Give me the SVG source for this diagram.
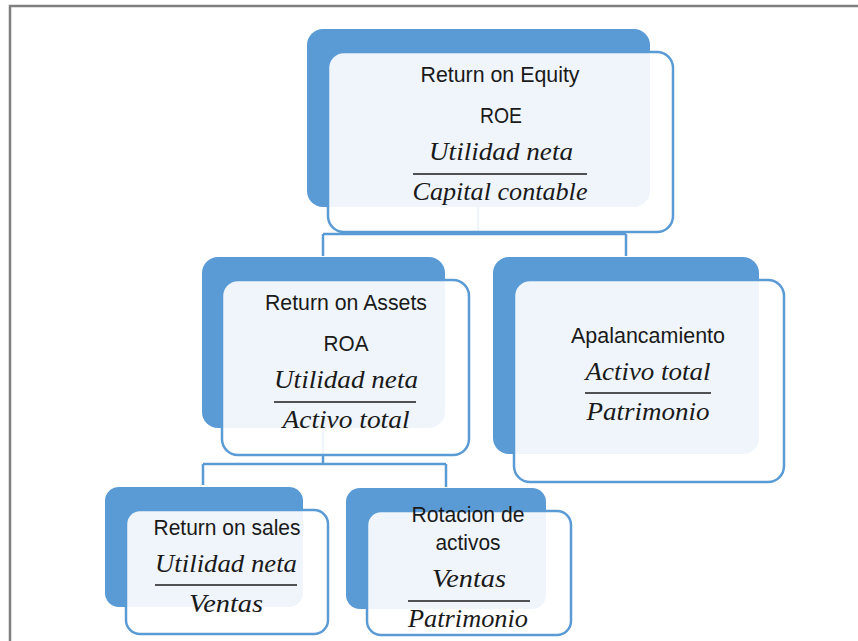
<svg xmlns="http://www.w3.org/2000/svg" width="858" height="641" viewBox="0 0 858 641">
<style>
.back{fill:#5b9bd5}
.front{fill:#ffffff;fill-opacity:0.9;stroke:#5b9bd5;stroke-width:2.5}
.conn{fill:none;stroke:#5b9bd5;stroke-width:2.5}
.t{font-family:"Liberation Sans",Arial,sans-serif;font-size:22px;fill:#1a1a1a;text-anchor:middle}
.m{font-family:"Liberation Serif","Times New Roman",serif;font-style:italic;font-size:25px;fill:#1a1a1a;text-anchor:middle}
.bar{stroke:#1a1a1a;stroke-width:1.6}
</style>
<rect x="0" y="0" width="858" height="641" fill="#ffffff"/>
<path d="M10,641 V6 H858" fill="none" stroke="#808080" stroke-width="2.5"/>

<g id="connectors">
<path class="conn" d="M478,207 V234 M323,234 H626 M323,234 V256 M626,234 V256"/>
<path class="conn" d="M323,428 V464 M203,464 H446 M203,464 V485 M446,464 V487"/>
</g>

<g id="roe">
<rect class="back" x="307" y="29" width="343" height="178" rx="16"/>
<rect class="front" x="328" y="52" width="345" height="180" rx="16"/>
<text class="t" x="500" y="82" textLength="159" lengthAdjust="spacingAndGlyphs">Return on Equity</text>
<text class="t" x="501" y="123" textLength="42" lengthAdjust="spacingAndGlyphs">ROE</text>
<text class="m" x="501" y="160" textLength="144" lengthAdjust="spacingAndGlyphs">Utilidad neta</text>
<line class="bar" x1="413" y1="174" x2="587" y2="174"/>
<text class="m" x="500" y="200" textLength="175" lengthAdjust="spacingAndGlyphs">Capital contable</text>
</g>

<g id="roa">
<rect class="back" x="202" y="257" width="243" height="171" rx="16"/>
<rect class="front" x="222" y="280" width="247" height="175" rx="16"/>
<text class="t" x="346" y="310" textLength="162" lengthAdjust="spacingAndGlyphs">Return on Assets</text>
<text class="t" x="346" y="351" textLength="45" lengthAdjust="spacingAndGlyphs">ROA</text>
<text class="m" x="346" y="388" textLength="144" lengthAdjust="spacingAndGlyphs">Utilidad neta</text>
<line class="bar" x1="274" y1="402" x2="416" y2="402"/>
<text class="m" x="346" y="428" textLength="127" lengthAdjust="spacingAndGlyphs">Activo total</text>
</g>

<g id="apalancamiento">
<rect class="back" x="493" y="257" width="266" height="197" rx="16"/>
<rect class="front" x="514" y="280" width="270" height="202" rx="16"/>
<text class="t" x="648" y="343" textLength="154" lengthAdjust="spacingAndGlyphs">Apalancamiento</text>
<text class="m" x="648" y="380" textLength="125" lengthAdjust="spacingAndGlyphs">Activo total</text>
<line class="bar" x1="585" y1="393" x2="711" y2="393"/>
<text class="m" x="648" y="420" textLength="123" lengthAdjust="spacingAndGlyphs">Patrimonio</text>
</g>

<g id="return-on-sales">
<rect class="back" x="105" y="487" width="198" height="120" rx="14"/>
<rect class="front" x="126" y="510" width="202" height="124" rx="14"/>
<text class="t" x="227" y="535" textLength="147" lengthAdjust="spacingAndGlyphs">Return on sales</text>
<text class="m" x="226" y="572" textLength="142" lengthAdjust="spacingAndGlyphs">Utilidad neta</text>
<line class="bar" x1="155" y1="585" x2="297" y2="585"/>
<text class="m" x="226" y="612" textLength="74" lengthAdjust="spacingAndGlyphs">Ventas</text>
</g>

<g id="rotacion-de-activos">
<rect class="back" x="346" y="488" width="200" height="121" rx="14"/>
<rect class="front" x="367" y="511" width="204" height="124" rx="14"/>
<text class="t" x="468" y="522" textLength="113" lengthAdjust="spacingAndGlyphs">Rotacion de</text>
<text class="t" x="468" y="550" textLength="65" lengthAdjust="spacingAndGlyphs">activos</text>
<text class="m" x="469" y="587" textLength="74" lengthAdjust="spacingAndGlyphs">Ventas</text>
<line class="bar" x1="408" y1="601" x2="530" y2="601"/>
<text class="m" x="468" y="627" textLength="120" lengthAdjust="spacingAndGlyphs">Patrimonio</text>
</g>
</svg>
